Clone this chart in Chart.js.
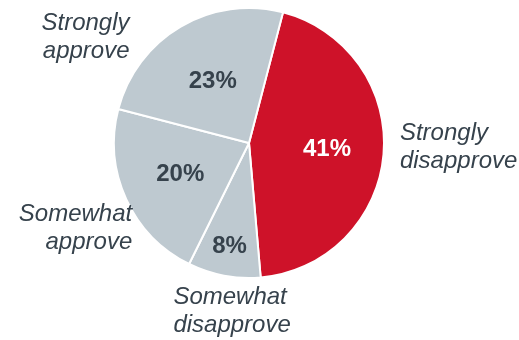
<!DOCTYPE html>
<html>
<head>
<meta charset="utf-8">
<script src="https://cdn.jsdelivr.net/npm/chart.js@4"></script>
<style>
  html, body { margin: 0; padding: 0; background: #fff; }
  #wrap { width: 519px; height: 340px; }
</style>
</head>
<body>
<div id="wrap"><canvas id="approvalPie" width="519" height="340"></canvas></div>
<script>
const categories = [
  ['Strongly', 'disapprove'],
  ['Somewhat', 'disapprove'],
  ['Somewhat', 'approve'],
  ['Strongly', 'approve'],
];
const shares = [41, 8, 20, 23];

const RED = '#CE1229';
const GREY = '#BEC9D0';
const INK = '#36424C';

// inside label: distance from centre as a fraction of the radius
const innerPos = [0.58, 0.78, 0.56, 0.53];
// outside label block centre, in radii from the pie centre
const outerPos = [
  { x: 1.118,  y: 0.03,  align: 'left' },
  { x: -0.56,  y: 1.25,  align: 'left' },
  { x: -0.865, y: 0.63,  align: 'right' },
  { x: -0.885, y: -0.78, align: 'right' },
];

const sliceLabels = {
  id: 'sliceLabels',
  afterDatasetsDraw(chart) {
    const ctx = chart.ctx;
    const meta = chart.getDatasetMeta(0);
    ctx.save();
    meta.data.forEach((arc, i) => {
      const p = arc.getProps(['x', 'y', 'startAngle', 'endAngle', 'outerRadius'], true);
      const mid = (p.startAngle + p.endAngle) / 2;
      const r = p.outerRadius * innerPos[i];
      ctx.font = 'bold 24px "Liberation Sans", Arial, sans-serif';
      ctx.fillStyle = i === 0 ? '#ffffff' : INK;
      ctx.textAlign = 'center';
      ctx.textBaseline = 'middle';
      ctx.fillText(shares[i] + '%', p.x + Math.cos(mid) * r, p.y + Math.sin(mid) * r);

      // category name outside the pie
      const o = outerPos[i];
      const ox = p.x + o.x * p.outerRadius;
      const oy = p.y + o.y * p.outerRadius;
      ctx.font = 'italic 24px "Liberation Sans", Arial, sans-serif';
      ctx.fillStyle = INK;
      ctx.textAlign = o.align;
      const lines = categories[i];
      const lh = 28;
      lines.forEach((t, k) => {
        ctx.fillText(t, ox, oy + (k - (lines.length - 1) / 2) * lh);
      });
    });
    ctx.restore();
  }
};

new Chart(document.getElementById('approvalPie'), {
  type: 'pie',
  data: {
    labels: categories.map(c => c.join(' ')),
    datasets: [{
      data: shares,
      backgroundColor: [RED, GREY, GREY, GREY],
      borderColor: '#ffffff',
      borderWidth: 2,
      hoverOffset: 0,
    }]
  },
  options: {
    responsive: false,
    animation: false,
    rotation: 14.6,
    layout: { padding: { top: 7, bottom: 61, left: 113, right: 134 } },
    plugins: {
      legend: { display: false },
      tooltip: { enabled: false },
    }
  },
  plugins: [sliceLabels]
});
</script>
</body>
</html>
